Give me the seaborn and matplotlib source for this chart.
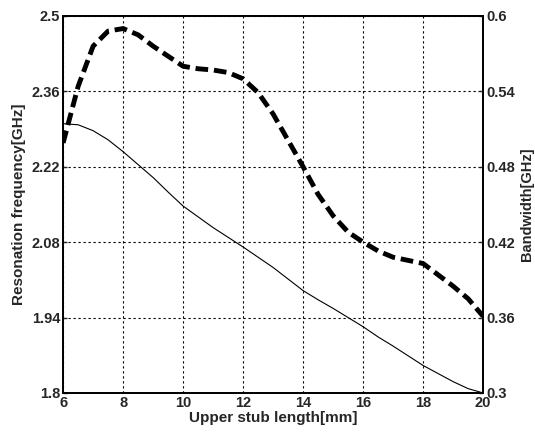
import matplotlib
matplotlib.use("Agg")
import matplotlib.pyplot as plt
import seaborn as sns
import pandas as pd

# upper stub length [mm]
length = [6, 6.5, 7, 7.5, 8, 8.5, 9, 9.5, 10, 10.5, 11, 11.5, 12, 12.5, 13,
          14, 14.5, 15, 15.5, 16, 16.5, 17, 18, 19, 19.5, 20]
# resonance frequency [GHz] (thin solid line, left axis)
freq = [2.30, 2.298, 2.287, 2.27, 2.248, 2.224, 2.20, 2.173, 2.147, 2.127,
        2.107, 2.089, 2.071, 2.052, 2.033, 1.99, 1.973, 1.957, 1.94, 1.923,
        1.904, 1.887, 1.851, 1.821, 1.808, 1.80]
# bandwidth [GHz] (thick dashed line, right axis)
bw = [0.499, 0.544, 0.576, 0.588, 0.590, 0.585, 0.576, 0.568, 0.560, 0.558,
      0.557, 0.555, 0.550, 0.539, 0.522, 0.48, 0.458, 0.441, 0.428, 0.42,
      0.413, 0.408, 0.403, 0.385, 0.375, 0.361]

left_ticks = [1.8, 1.94, 2.08, 2.22, 2.36, 2.5]
right_ticks = [0.3, 0.36, 0.42, 0.48, 0.54, 0.6]
x_ticks = [6, 8, 10, 12, 14, 16, 18, 20]

df = pd.DataFrame({'length': length, 'freq': freq, 'bw': bw})

sns.set_style("white")
plt.rcParams['font.family'] = ['Liberation Sans', 'DejaVu Sans']

fig = plt.figure(figsize=(5.35, 4.44), dpi=100)
ax = fig.add_axes([0.118, 0.115, 0.785, 0.849])
ax2 = ax.twinx()

sns.lineplot(data=df, x='length', y='freq', ax=ax, color='black', linewidth=0.8)
sns.lineplot(data=df, x='length', y='bw', ax=ax2, color='black', linewidth=3.5,
             linestyle=(0, (2.6, 1.2)))

ax.set_xlim(6, 20)
ax.set_ylim(1.8, 2.5)
ax2.set_ylim(0.3, 0.6)
ax.set_xticks(x_ticks)
ax.set_yticks(left_ticks)
ax2.set_yticks(right_ticks)
ax.set_yticklabels([f"{v:g}" for v in left_ticks])
ax2.set_yticklabels([f"{v:g}" for v in right_ticks])

ax.grid(True, color='black', linestyle=(0, (2, 2.5)), linewidth=0.8)
ax2.grid(False)

for a in (ax, ax2):
    a.tick_params(direction='in', length=3, width=1, labelsize=10.5, pad=2)
    for lbl in a.get_xticklabels() + a.get_yticklabels():
        lbl.set_fontweight('bold')
    for s in a.spines.values():
        s.set_color('black')
        s.set_linewidth(1.3)

ax.set_xlabel('Upper stub length[mm]', fontsize=11, fontweight='bold', labelpad=1)
ax.set_ylabel('Resonation frequency[GHz]', fontsize=11, fontweight='bold', labelpad=4)
ax2.set_ylabel('Bandwidth[GHz]', fontsize=10.5, fontweight='bold', labelpad=4)

fig.savefig('out.png', dpi=100)
